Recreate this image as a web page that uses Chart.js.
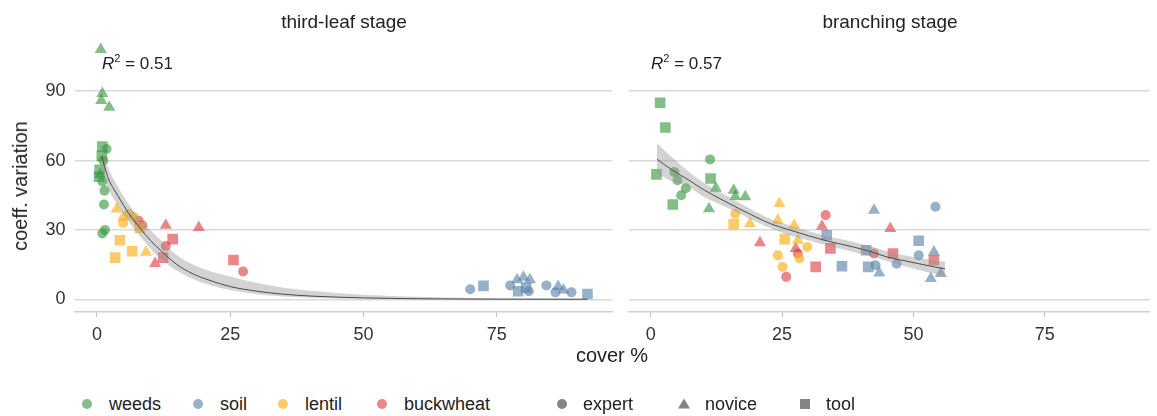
<!DOCTYPE html>
<html><head><meta charset="utf-8">
<script src="https://cdn.jsdelivr.net/npm/chart.js@4.4.1/dist/chart.umd.min.js"></script>
<style>
html,body{margin:0;padding:0;background:#fff;}
#wrap{position:relative;width:1157px;height:416px;overflow:hidden;font-family:"Liberation Sans",Arial,sans-serif;color:#222;}
canvas{position:absolute;top:0;}
.t{position:absolute;white-space:nowrap;font-size:19px;line-height:1;}
.r2{font-size:17px;}
.r2 sup{font-size:11px;vertical-align:7px;line-height:0;}
.lg{position:absolute;top:395px;font-size:18px;line-height:1;white-space:nowrap;color:#222;}
</style></head><body><div id="wrap">
<canvas id="c1" width="620" height="345" style="left:0;width:620px;height:345px"></canvas>
<canvas id="c2" width="537" height="345" style="left:620px;width:537px;height:345px"></canvas>
<div class="t" id="title1" style="left:344px;top:12px;transform:translateX(-50%)"></div>
<div class="t" id="title2" style="left:890px;top:12px;transform:translateX(-50%)"></div>
<div class="t r2" id="r2a" style="left:102px;top:55px"></div>
<div class="t r2" id="r2b" style="left:651px;top:55px"></div>
<div class="t" style="left:20px;top:186px;font-size:20px;transform:translate(-50%,-50%) rotate(-90deg)">coeff. variation</div>
<div class="t" style="left:612px;top:345px;font-size:20px;transform:translateX(-50%)">cover %</div>
</div>
<script>
// ---- data ----
const xTicks = [0, 25, 50, 75];
const yTicks = [0, 30, 60, 90];
const classes = ['weeds', 'soil', 'lentil', 'buckwheat'];
const raters = ['expert', 'novice', 'tool'];
const panelTitles = ['third-leaf stage', 'branching stage'];
const r2Values = ['0.51', '0.57'];

// third-leaf stage: [cover %, coeff. variation, rater]
const leafWeeds = [
  [0.7,108,'novice'],[1.0,89,'novice'],[0.8,86,'novice'],[2.3,83,'novice'],
  [1.0,66,'tool'],[1.8,65,'expert'],[0.9,62,'tool'],[1.2,60,'expert'],
  [0.5,56,'tool'],[0.6,54,'novice'],[0.4,53,'tool'],[1.0,51,'expert'],
  [1.4,47,'expert'],[1.3,41,'expert'],[1.5,30,'expert'],[1.0,28.5,'expert']
];
const leafSoil = [
  [70,4.3,'expert'],[72.5,5.8,'tool'],[77.5,6,'expert'],[78.8,8.5,'novice'],
  [80,9.5,'novice'],[81.2,8.5,'novice'],[79,3.5,'tool'],[80.5,5,'tool'],
  [81,3.5,'expert'],[84.3,6,'expert'],[86.5,5.5,'novice'],[86,3,'expert'],
  [87.5,4,'novice'],[89,3,'expert'],[92,2.3,'tool']
];
const leafLentil = [
  [3.7,39,'novice'],[4.9,35.5,'novice'],[4.9,33,'expert'],[6,37,'expert'],
  [7,35.5,'expert'],[4.3,25.5,'tool'],[3.4,18,'tool'],[6.6,20.8,'tool'],
  [9.2,20.3,'novice'],[8,31,'tool']
];
const leafBuckwheat = [
  [7.8,34,'expert'],[8.5,32,'expert'],[12.9,32,'novice'],[19.1,31,'novice'],
  [14.2,26,'tool'],[12.9,23,'expert'],[12.4,18,'tool'],[10.9,15.5,'novice'],
  [25.6,17,'tool'],[27.4,12,'expert']
];

// branching stage
const branchWeeds = [
  [1.8,85,'tool'],[2.8,74.3,'tool'],[1.1,54,'tool'],[4.5,55,'expert'],
  [5.1,51.5,'expert'],[6.7,48,'expert'],[5.8,45,'expert'],[4.2,41,'tool'],
  [11.3,60.5,'expert'],[11.4,52.2,'tool'],[12.4,48,'novice'],[11.1,39.2,'novice'],
  [15.8,47.2,'novice'],[16.1,44.5,'novice'],[18,44.3,'novice']
];
const branchSoil = [
  [42.5,38.5,'novice'],[54.2,40,'expert'],[33.5,27.7,'tool'],[36.4,14.3,'tool'],
  [41,21.2,'tool'],[41.4,14,'tool'],[42.8,14.7,'expert'],[43.5,11.4,'novice'],
  [51,25.3,'tool'],[51,19,'expert'],[46.8,15.4,'expert'],[53.9,20.5,'novice'],
  [53.3,9,'novice'],[55.2,11.1,'novice']
];
const branchLentil = [
  [24.5,41.4,'novice'],[16.1,37,'expert'],[15.8,32.5,'tool'],[18.9,32.7,'novice'],
  [24.2,34.2,'novice'],[25.5,26,'tool'],[27.3,32,'novice'],[29.8,22.6,'expert'],
  [24.2,19,'expert'],[25.1,14,'expert'],[28.3,17.6,'expert'],[28,25.5,'novice']
];
const branchBuckwheat = [
  [20.8,24.4,'novice'],[25.8,9.7,'expert'],[27.6,22,'novice'],[28,19.8,'expert'],
  [31.4,14,'tool'],[33.3,36.4,'expert'],[32.6,31.6,'novice'],[34.2,22,'tool'],
  [45.6,30.6,'novice'],[42.5,19.8,'expert'],[46.1,19.8,'tool'],[53.9,16.9,'tool']
];

// fitted curves with confidence band
const leafFitX  = [0.9, 2, 4, 6, 8, 10, 12, 15, 18, 21, 25, 30, 35, 40, 50, 60, 70, 80, 92];
const leafFitY  = [62, 53, 44.5, 37, 31, 25.5, 21, 15, 11, 8.3, 5.5, 3.5, 2.2, 1.4, 0.6, 0.25, 0.1, 0.05, 0.02];
const leafFitLo = [57, 48.5, 40.5, 33.5, 27.5, 22, 17.5, 12.3, 8.8, 6.3, 4, 2.2, 1.2, 0.7, 0.2, 0.06, 0.02, 0, 0];
const leafFitHi = [67, 57.5, 48.5, 41, 35, 30, 25.5, 19, 15, 12.3, 9.8, 7, 5, 3.7, 2, 1.1, 0.6, 0.3, 0.15];

const branchFitX  = [1.2, 4, 7.3, 10, 13.6, 17, 20, 23, 26, 30, 34, 38.6, 42, 45, 48, 51, 54, 56];
const branchFitY  = [60.6, 56, 51.5, 47.5, 43, 39, 35.6, 32.5, 30.3, 27.5, 25, 22.6, 20.5, 18.3, 16.8, 15.4, 14, 13.2];
const branchFitLo = [54.5, 51, 48.5, 44.5, 40.7, 37, 33.5, 30.6, 28, 25.5, 23, 20.5, 18.5, 16.5, 14.5, 12.7, 11, 10];
const branchFitHi = [67.5, 61.5, 55, 50.5, 46, 41.5, 37.8, 34.5, 32.2, 29.5, 27, 24.8, 22.8, 20.8, 19.2, 17.9, 16.8, 16.3];

// ---- styles ----
const classColor = {
  weeds: 'rgba(55,150,65,0.62)',
  soil: 'rgba(80,120,160,0.58)',
  lentil: 'rgba(255,175,25,0.65)',
  buckwheat: 'rgba(220,55,60,0.6)'
};
const raterShape = { expert: 'circle', novice: 'triangle', tool: 'rect' };
const raterSize = { expert: 5, novice: 7, tool: 7.5 };
const FONT = '"Liberation Sans", Arial, sans-serif';

function pointSets(groups) {
  const sets = [];
  classes.forEach((c, ci) => {
    raters.forEach(r => {
      sets.push({
        type: 'scatter',
        data: groups[ci].filter(p => p[2] === r).map(p => ({ x: p[0], y: p[1] })),
        pointStyle: raterShape[r],
        pointRadius: raterSize[r],
        pointHoverRadius: raterSize[r],
        backgroundColor: classColor[c],
        borderWidth: 0,
        borderColor: 'rgba(0,0,0,0)',
        order: 3
      });
    });
  });
  return sets;
}
function fitSets(X, Y, Lo, Hi, base) {
  const mk = arr => X.map((x, i) => ({ x: x, y: arr[i] }));
  return [
    { type: 'line', data: mk(Lo), borderColor: 'rgba(0,0,0,0)', borderWidth: 1, pointRadius: 0,
      fill: false, cubicInterpolationMode: 'monotone', order: 2 },
    { type: 'line', data: mk(Hi), borderColor: 'rgba(0,0,0,0)', borderWidth: 1, pointRadius: 0,
      fill: { target: base }, backgroundColor: 'rgba(150,150,150,0.42)', cubicInterpolationMode: 'monotone', order: 1 },
    { type: 'line', data: mk(Y), borderColor: '#4a4a4a', borderWidth: 1, pointRadius: 0,
      fill: false, cubicInterpolationMode: 'monotone', order: 0 }
  ];
}

function makeChart(id, groups, fit, opts) {
  const pts = pointSets(groups);
  const base = pts.length;
  const datasets = pts.concat(fitSets(fit[0], fit[1], fit[2], fit[3], base));
  return new Chart(document.getElementById(id), {
    type: 'scatter',
    data: { datasets },
    options: {
      responsive: false,
      animation: false,
      events: [],
      layout: { padding: { top: 34.5, right: opts.padRight, left: opts.padLeft, bottom: 0 } },
      plugins: { legend: { display: false }, tooltip: { enabled: false }, title: { display: false } },
      scales: {
        x: {
          type: 'linear', min: -4.2, max: opts.xMax,
          afterBuildTicks: s => { s.ticks = xTicks.map(v => ({ value: v })); },
          afterFit: s => { s.height = 33; },
          grid: { drawOnChartArea: false, drawTicks: true, tickLength: 5, tickColor: '#bdbdbd', lineWidth: 1 },
          border: { display: true, color: '#d0d0d0', width: 1.5 },
          ticks: { padding: 7, color: '#333', font: { family: FONT, size: 18 }, maxRotation: 0 }
        },
        y: {
          type: 'linear', min: -5.5, max: 114.5,
          afterBuildTicks: s => { s.ticks = yTicks.map(v => ({ value: v })); },
          afterFit: s => { s.width = opts.yWidth; },
          grid: { color: '#d9d9d9', lineWidth: 1.5, drawTicks: false },
          border: { display: false },
          ticks: { display: opts.yLabels, padding: 9, color: '#333', font: { family: FONT, size: 18 } }
        }
      }
    }
  });
}

makeChart('c1', [leafWeeds, leafSoil, leafLentil, leafBuckwheat],
  [leafFitX, leafFitY, leafFitLo, leafFitHi],
  { xMax: 96.6, padRight: 8, padLeft: 0, yWidth: 74.6, yLabels: true });
makeChart('c2', [branchWeeds, branchSoil, branchLentil, branchBuckwheat],
  [branchFitX, branchFitY, branchFitLo, branchFitHi],
  { xMax: 94.93, padRight: 0, padLeft: 8.6, yWidth: 0, yLabels: false });

document.getElementById('title1').textContent = panelTitles[0];
document.getElementById('title2').textContent = panelTitles[1];
document.getElementById('r2a').innerHTML = '<i>R</i><sup>2</sup> = ' + r2Values[0];
document.getElementById('r2b').innerHTML = '<i>R</i><sup>2</sup> = ' + r2Values[1];

// legend
const legendItems = [
  { label: 'weeds', shape: 'circle', color: classColor.weeds, cx: 87, tx: 109 },
  { label: 'soil', shape: 'circle', color: classColor.soil, cx: 198, tx: 220 },
  { label: 'lentil', shape: 'circle', color: classColor.lentil, cx: 283, tx: 305 },
  { label: 'buckwheat', shape: 'circle', color: classColor.buckwheat, cx: 382, tx: 404 },
  { label: 'expert', shape: 'circle', color: 'rgba(80,80,80,0.7)', cx: 562, tx: 583 },
  { label: 'novice', shape: 'triangle', color: 'rgba(80,80,80,0.7)', cx: 684, tx: 705 },
  { label: 'tool', shape: 'rect', color: 'rgba(80,80,80,0.7)', cx: 805, tx: 826 }
];
const wrap = document.getElementById('wrap');
legendItems.forEach(it => {
  let shape;
  if (it.shape === 'circle') shape = '<circle cx="7" cy="7" r="5" fill="' + it.color + '"/>';
  else if (it.shape === 'triangle') shape = '<polygon points="7,1.5 13,11.5 1,11.5" fill="' + it.color + '"/>';
  else shape = '<rect x="2" y="2" width="10" height="10" fill="' + it.color + '"/>';
  const d = document.createElement('div');
  d.innerHTML = '<svg width="14" height="14">' + shape + '</svg>';
  const svg = d.firstChild;
  svg.style.position = 'absolute';
  svg.style.left = (it.cx - 7) + 'px';
  svg.style.top = '397px';
  wrap.appendChild(svg);
  const t = document.createElement('div');
  t.className = 'lg';
  t.style.left = it.tx + 'px';
  t.textContent = it.label;
  wrap.appendChild(t);
});
</script>
</body></html>
